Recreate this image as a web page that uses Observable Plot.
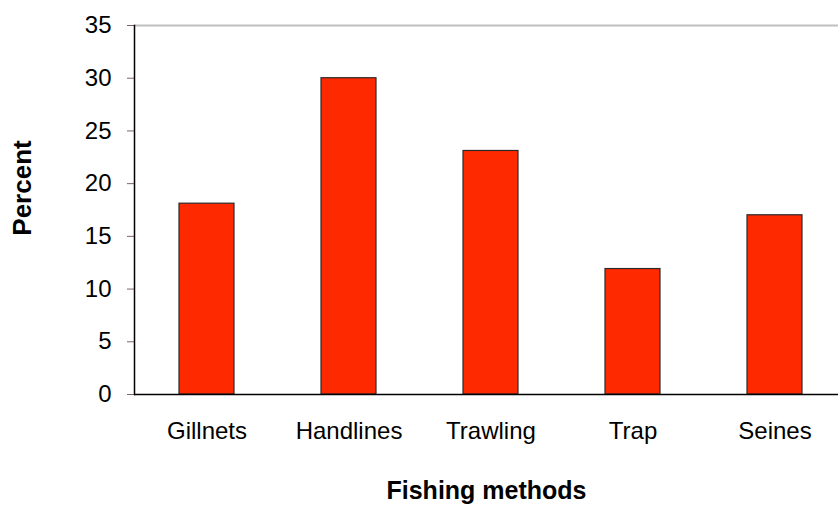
<!DOCTYPE html>
<html><head><meta charset="utf-8">
<script src="https://cdn.jsdelivr.net/npm/d3@7"></script>
<script src="https://cdn.jsdelivr.net/npm/@observablehq/plot@0.6"></script>
<style>body{margin:0;background:#fff}</style>
</head><body><div id="chart"></div>
<script>
const methods = ["Gillnets", "Handlines", "Trawling", "Trap", "Seines"];
const percents = [18.1, 30, 23.1, 11.9, 17];
const yTicks = [0, 5, 10, 15, 20, 25, 30, 35];
const xTitle = "Fishing methods";
const yTitle = "Percent";
const data = methods.map((m, i) => ({method: m, percent: percents[i]}));

const chart = Plot.plot({
  width: 838, height: 507,
  marginLeft: 134, marginTop: 25, marginBottom: 113, marginRight: 0,
  style: {fontFamily: "'Liberation Sans', Arial, sans-serif", fontSize: "24px", color: "#000", background: "#fff"},
  x: {domain: methods, range: [134, 848], paddingInner: 0.61, paddingOuter: 0.305},
  y: {domain: [0, 35]},
  marks: [
    Plot.gridY([35], {stroke: "#c0c0c0", strokeOpacity: 1, strokeWidth: 2}),
    Plot.barY(data, {x: "method", y: "percent", fill: "#ff2900", stroke: "#2a2a2a", strokeWidth: 1.2}),
    Plot.axisY(yTicks, {tickSize: 7, tickPadding: 16, stroke: "#7a6666", label: yTitle, labelAnchor: "center", labelOffset: 122}),
    Plot.axisX({tickSize: 0, tickPadding: 27, label: xTitle, labelAnchor: "center", labelOffset: 104}),
    Plot.frame({anchor: "left", stroke: "#000", strokeWidth: 1.5}),
    Plot.ruleY([0], {stroke: "#000", strokeWidth: 1.5})
  ]
});
d3.select(chart).selectAll("g[aria-label='x-axis label'] text")
  .text(xTitle).attr("font-weight", "bold").attr("font-size", "25px");
d3.select(chart).selectAll("g[aria-label='y-axis label'] text")
  .text(yTitle).attr("font-weight", "bold").attr("font-size", "26px").attr("dx", 22);
document.getElementById("chart").append(chart);
</script>
</body></html>
